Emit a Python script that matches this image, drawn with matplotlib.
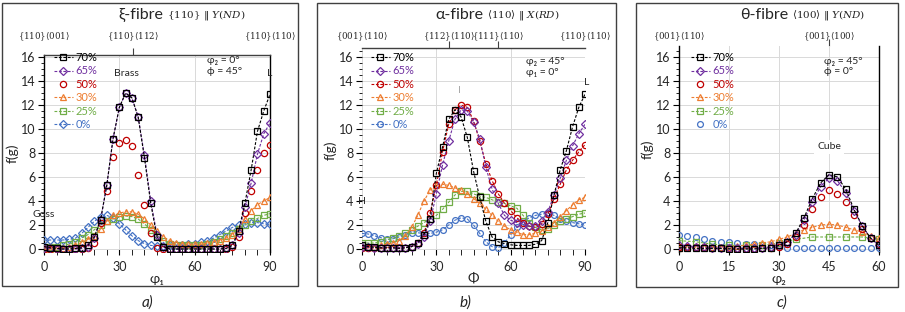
import matplotlib
matplotlib.use("Agg")
from matplotlib import pyplot as plt
from matplotlib.patches import Rectangle
from matplotlib.ticker import MultipleLocator
from matplotlib.transforms import blended_transform_factory

plt.rcParams['font.family'] = ['Lato', 'DejaVu Sans']
plt.rcParams['mathtext.fontset'] = 'dejavuserif'

W, H = 905, 312

# x grids (degrees)
PHI_90 = [0, 2.5, 5, 7.5, 10, 12.5, 15, 17.5, 20, 22.5, 25, 27.5, 30, 32.5, 35, 37.5,
          40, 42.5, 45, 47.5, 50, 52.5, 55, 57.5, 60, 62.5, 65, 67.5, 70, 72.5, 75,
          77.5, 80, 82.5, 85, 87.5, 90]
PHI_60 = [0, 2.5, 5, 7.5, 10, 12.5, 15, 17.5, 20, 22.5, 25, 27.5, 30, 32.5, 35, 37.5,
          40, 42.5, 45, 47.5, 50, 52.5, 55, 57.5, 60]
PHI_60_5 = [0, 5, 10, 15, 20, 25, 30, 35, 40, 45, 50, 55, 60]

LABELS = ["70%", "65%", "50%", "30%", "25%", "0%"]
COLORS = ["#000000", "#7030A0", "#C00000", "#ED7D31", "#70AD47", "#4472C4"]

# a) xi-fibre
xi_70 = [0.2, 0.1, 0.05, 0.0, 0.0, 0.05, 0.1, 0.3, 1.0, 2.4, 5.3, 9.2, 11.8, 13.0, 12.6, 11.0,
         7.6, 3.8, 1.0, 0.2, 0.0, 0.0, 0.0, 0.0, 0.0, 0.0, 0.0, 0.0, 0.0, 0.05, 0.3,
         1.5, 3.8, 6.6, 9.8, 11.5, 12.9]
xi_65 = [0.1, 0.05, 0.0, 0.0, 0.0, 0.0, 0.05, 0.2, 0.9, 2.4, 5.3, 9.2, 11.8, 13.0, 12.6, 11.0,
         7.8, 4.0, 1.2, 0.2, 0.0, 0.0, 0.0, 0.0, 0.0, 0.0, 0.0, 0.0, 0.0, 0.05, 0.3,
         1.3, 3.5, 5.5, 7.9, 9.6, 10.5]
xi_50 = [0.0, 0.0, 0.0, 0.0, 0.0, 0.0, 0.0, 0.1, 0.5, 2.2, 4.8, 7.7, 8.8, 9.1, 8.6, 6.2,
         3.7, 1.3, 0.1, 0.0, 0.0, 0.0, 0.0, 0.0, 0.0, 0.0, 0.0, 0.0, 0.0, 0.0, 0.2,
         1.0, 3.0, 4.8, 6.6, 8.0, 8.7]
xi_30 = [0.0, 0.0, 0.05, 0.1, 0.2, 0.35, 0.55, 0.8, 1.1, 1.7, 2.3, 2.8, 3.0, 3.1, 3.1, 2.9,
         2.5, 2.0, 1.5, 1.0, 0.7, 0.5, 0.45, 0.4, 0.4, 0.4, 0.5, 0.6, 0.7, 0.9, 1.2,
         1.7, 2.5, 3.2, 3.7, 4.0, 4.3]
xi_25 = [0.1, 0.15, 0.2, 0.3, 0.4, 0.6, 0.9, 1.2, 1.6, 2.0, 2.3, 2.5, 2.65, 2.75, 2.7, 2.5,
         2.1, 1.6, 1.1, 0.7, 0.45, 0.35, 0.3, 0.3, 0.3, 0.35, 0.45, 0.6, 0.8, 1.05, 1.35,
         1.7, 2.0, 2.3, 2.55, 2.8, 2.95]
xi_0 = [0.75, 0.75, 0.75, 0.75, 0.8, 0.9, 1.3, 1.8, 2.3, 2.7, 2.8, 2.6, 2.1, 1.6, 1.1, 0.7,
        0.45, 0.3, 0.25, 0.25, 0.3, 0.35, 0.35, 0.4, 0.45, 0.55, 0.7, 0.9, 1.2, 1.5, 1.8,
        2.0, 2.1, 2.2, 2.2, 2.1, 2.05]

# b) alpha-fibre
al_70 = [0.3, 0.2, 0.15, 0.1, 0.1, 0.1, 0.05, 0.1, 0.2, 0.5, 1.2, 2.5, 6.3, 8.5, 10.8, 11.6,
         11.0, 9.3, 6.5, 4.3, 2.3, 1.0, 0.6, 0.45, 0.35, 0.3, 0.3, 0.3, 0.4, 0.7, 2.2,
         4.5, 6.6, 8.2, 10.2, 11.8, 12.9]
al_65 = [0.2, 0.15, 0.1, 0.1, 0.1, 0.1, 0.1, 0.1, 0.2, 0.4, 1.0, 2.3, 4.6, 7.0, 9.0, 10.8,
         11.6, 11.5, 10.6, 9.2, 6.8, 5.0, 3.8, 2.8, 2.4, 2.2, 2.0, 1.9, 1.9, 2.3, 3.1,
         4.5, 5.9, 7.4, 8.6, 9.6, 10.4]
al_50 = [0.1, 0.1, 0.1, 0.1, 0.1, 0.1, 0.1, 0.1, 0.2, 0.5, 1.3, 3.0, 5.3, 8.1, 10.4, 11.6,
         12.0, 11.8, 10.7, 9.0, 7.1, 5.7, 4.6, 3.8, 3.2, 2.6, 2.2, 1.9, 1.8, 2.1, 2.9,
         4.2, 5.4, 6.6, 7.4, 8.1, 8.7]
al_30 = [0.2, 0.2, 0.2, 0.3, 0.4, 0.5, 0.7, 1.1, 1.8, 2.8, 4.0, 4.9, 5.3, 5.4, 5.3, 5.1,
         4.9, 4.6, 4.2, 3.8, 3.3, 2.8, 2.3, 1.9, 1.6, 1.4, 1.2, 1.2, 1.3, 1.5, 1.8,
         2.2, 2.7, 3.2, 3.7, 4.1, 4.3]
al_25 = [0.5, 0.5, 0.5, 0.6, 0.75, 0.9, 1.1, 1.3, 1.6, 1.9, 2.2, 2.5, 2.8, 3.3, 3.9, 4.5,
         4.8, 4.8, 4.6, 4.4, 4.3, 4.1, 3.9, 3.8, 3.6, 3.4, 2.8, 2.2, 1.8, 1.6, 1.7,
         2.0, 2.3, 2.5, 2.7, 2.9, 3.0]
al_0 = [1.3, 1.25, 1.1, 0.95, 0.8, 0.85, 1.0, 1.2, 1.35, 1.35, 1.3, 1.3, 1.4, 1.6, 2.0, 2.4,
        2.6, 2.5, 2.0, 1.3, 0.6, 0.2, 0.1, 0.5, 1.2, 1.8, 2.3, 2.6, 2.8, 2.9, 3.0,
        2.8, 2.5, 2.3, 2.2, 2.1, 2.0]

# c) theta-fibre
th_70 = [0.1, 0.1, 0.05, 0.05, 0.05, 0.05, 0.0, 0.0, 0.0, 0.0, 0.05, 0.1, 0.3, 0.6, 1.3, 2.6,
         4.2, 5.5, 6.2, 6.0, 5.0, 3.3, 1.9, 0.9, 0.3]
th_65 = [0.3, 0.25, 0.2, 0.15, 0.1, 0.1, 0.05, 0.05, 0.05, 0.05, 0.1, 0.15, 0.3, 0.6, 1.2, 2.4,
         3.9, 5.2, 5.9, 5.7, 4.7, 3.2, 1.9, 0.9, 0.3]
th_50 = [0.2, 0.2, 0.2, 0.15, 0.1, 0.05, 0.05, 0.0, 0.0, 0.0, 0.05, 0.1, 0.2, 0.4, 1.0, 2.0,
         3.3, 4.3, 4.9, 4.6, 3.9, 2.8, 1.7, 0.9, 0.4]
th_30 = [0.1, 0.15, 0.2, 0.2, 0.2, 0.2, 0.2, 0.25, 0.3, 0.4, 0.5, 0.6, 0.8, 1.0, 1.3, 1.6,
         1.8, 2.0, 2.05, 2.0, 1.8, 1.6, 1.4, 1.1, 0.9]
th_25 = [0.7, 0.6, 0.4, 0.3, 0.3, 0.3, 0.5, 0.8, 1.0, 1.0, 1.0, 1.0, 0.8]
th_0 = [1.2, 1.1, 1.0, 0.85, 0.7, 0.6, 0.55, 0.5, 0.45, 0.4, 0.35, 0.3, 0.15, 0.1, 0.05, 0.05,
        0.05, 0.05, 0.05, 0.05, 0.05, 0.05, 0.05, 0.05, 0.05]

DASH = (0, (2.5, 1.5))
TXT = "#262626"

fig = plt.figure(figsize=(W / 100, H / 100), dpi=100)


def px_axes(left, right, top, bottom):
    return fig.add_axes([left / W, 1 - bottom / H, (right - left) / W, (bottom - top) / H])


def draw_series(ax, xs, ys, markers, lines, sizes):
    handles = []
    for x, y, c, m, ln, ms, lab in zip(xs, ys, COLORS, markers, lines, sizes, LABELS):
        h, = ax.plot(x, y, color=c, marker=m, markersize=ms, markerfacecolor='none',
                     markeredgewidth=0.9, linestyle=DASH if ln else 'none', linewidth=0.8,
                     label=lab)
        handles.append(h)
    for h, z in zip(handles, [8, 7, 6, 5, 4, 3]):
        h.set_zorder(z)
    return handles


def style_axes(ax, xmax, xmajor, ytop, spines):
    ax.set_xlim(0, xmax)
    ax.set_ylim(-0.25, ytop)
    ax.xaxis.set_major_locator(MultipleLocator(xmajor))
    ax.yaxis.set_minor_locator(MultipleLocator(0.5))
    ax.set_yticks(range(0, 17, 2))
    ax.grid(True, which='major', color='#d9d9d9', linewidth=0.7, zorder=0)
    ax.set_axisbelow(True)
    for side in ['left', 'right', 'top', 'bottom']:
        ax.spines[side].set_visible(side in spines)
        ax.spines[side].set_color('#000000' if side != 'top' else '#404040')
        ax.spines[side].set_linewidth(1.0)
    ax.tick_params(axis='y', which='major', length=4, labelsize=9, labelcolor=TXT, pad=2)
    ax.tick_params(axis='y', which='minor', length=2)
    ax.tick_params(axis='x', which='major', direction='inout', length=5, labelsize=9,
                   labelcolor=TXT, pad=4)
    ax.tick_params(axis='x', which='minor', direction='inout', length=4)
    ax.set_ylabel("f(g)", fontsize=10, color=TXT, labelpad=2)


def top_labels(ax, pos, labels, ypx, ticks):
    tr = blended_transform_factory(ax.transData, fig.transFigure)
    for p, lab in zip(pos, labels):
        ax.text(p, 1 - ypx / H, lab, transform=tr, ha='center', va='center',
                fontsize=6.2, color=TXT)
    sec = ax.secondary_xaxis('top')
    sec.set_xticks(ticks)
    sec.set_xticklabels([])
    sec.tick_params(length=5, direction='out', color='#404040')
    sec.spines['top'].set_visible(False)


def legend(ax, handles, xpx, ypx):
    ax.legend(handles=handles, labels=LABELS, loc='upper left', frameon=False,
              bbox_to_anchor=(xpx / W, 1 - ypx / H), bbox_transform=fig.transFigure,
              fontsize=8, handlelength=1.7, handletextpad=0.25, labelspacing=0.22,
              borderpad=0, borderaxespad=0, labelcolor=COLORS)


def title(xpx, main, sub):
    fig.text(xpx / W, 1 - 15 / H, main, ha='right', va='center', fontsize=11.5, color=TXT)
    fig.text((xpx + 4) / W, 1 - 15 / H, sub, ha='left', va='center', fontsize=7.5, color=TXT)


# panel frames
for l, r, t, b in [(2, 298, 3, 286), (317, 616, 3, 286), (636, 898, 3, 287)]:
    fig.patches.append(Rectangle((l / W, 1 - b / H), (r - l) / W, (b - t) / H,
                                 transform=fig.transFigure, fill=False,
                                 edgecolor='#404040', linewidth=1.0))

# ---- a) xi-fibre
ax = px_axes(44, 270, 55, 252)
h = draw_series(ax, [PHI_90] * 6, [xi_70, xi_65, xi_50, xi_30, xi_25, xi_0],
                ['s', 'D', 'o', '^', 's', 'D'], [1, 1, 0, 1, 1, 1],
                [5, 3.6, 4.5, 4, 5, 3.6])
style_axes(ax, 90, 30, 16.17, ['left', 'right', 'top'])
ax.xaxis.set_minor_locator(MultipleLocator(5))
ax.set_xlabel("φ₁", fontsize=10, color=TXT, labelpad=0)
top_labels(ax, [0, 35.26, 90], [r"$\{110\}\langle001\rangle$", r"$\{110\}\langle112\rangle$",
                                r"$\{110\}\langle110\rangle$"], 37, [35.26])
legend(ax, h, 54, 52)
ax.text(33, 14.6, "Brass", ha='center', va='center', fontsize=7.5, color=TXT)
ax.text(0, 2.9, "Goss", ha='center', va='center', fontsize=7.5, color=TXT, clip_on=False)
ax.text(90, 14.6, "L", ha='center', va='center', fontsize=7.5, color=TXT, clip_on=False)
ax.text(65, 15.7, "φ₂ = 0°", ha='left', va='center', fontsize=7.5, color=TXT)
ax.text(65, 14.8, "ϕ = 45°", ha='left', va='center', fontsize=7.5, color=TXT)
title(163, "ξ-fibre", r"$\{110\}\ \Vert\ Y(ND)$")

# ---- b) alpha-fibre
ax = px_axes(362, 585, 48, 252)
h = draw_series(ax, [PHI_90] * 6, [al_70, al_65, al_50, al_30, al_25, al_0],
                ['s', 'D', 'o', '^', 's', 'o'], [1, 1, 1, 1, 1, 1],
                [5, 3.6, 4.5, 4, 5, 4.2])
style_axes(ax, 90, 30, 16.75, ['top'])
ax.xaxis.set_minor_locator(MultipleLocator(5))
ax.set_xlabel("Φ", fontsize=10, color=TXT, labelpad=0)
top_labels(ax, [0, 35.26, 54.74, 90],
           [r"$\{001\}\langle110\rangle$", r"$\{112\}\langle110\rangle$",
            r"$\{111\}\langle110\rangle$", r"$\{110\}\langle110\rangle$"], 37, [35.26, 54.74])
legend(ax, h, 371, 52)
ax.text(0, 4.0, "H", ha='center', va='center', fontsize=7.5, color=TXT, clip_on=False)
ax.text(39.5, 13.2, "I", ha='center', va='center', fontsize=7.5, color='#a6a6a6')
ax.text(90.5, 13.9, "L", ha='center', va='center', fontsize=7.5, color=TXT, clip_on=False)
ax.text(66, 15.6, "φ₂ = 45°", ha='left', va='center', fontsize=7.5, color=TXT)
ax.text(66, 14.7, "φ₁ = 0°", ha='left', va='center', fontsize=7.5, color=TXT)
title(483, "α-fibre", r"$\langle110\rangle\ \Vert\ X(RD)$")

# ---- c) theta-fibre
ax = px_axes(679, 879, 46, 252)
h = draw_series(ax, [PHI_60, PHI_60, PHI_60, PHI_60, PHI_60_5, PHI_60],
                [th_70, th_65, th_50, th_30, th_25, th_0],
                ['s', 'D', 'o', '^', 's', 'o'], [1, 1, 0, 1, 1, 0],
                [5, 3.6, 4.5, 4, 5, 4.2])
style_axes(ax, 60, 15, 16.9, ['left', 'right'])
ax.set_xlabel("φ₂", fontsize=10, color=TXT, labelpad=0)
top_labels(ax, [0, 45], [r"$\{001\}\langle110\rangle$", r"$\{001\}\langle100\rangle$"], 37, [45])
legend(ax, h, 691, 52)
ax.text(45, 8.5, "Cube", ha='center', va='center', fontsize=7.5, color=TXT,
        bbox=dict(facecolor='white', edgecolor='none', pad=2))
ax.text(0, 3.3, "I", ha='center', va='center', fontsize=7.5, color=TXT, clip_on=False)
ax.text(43.5, 15.6, "φ₂ = 45°", ha='left', va='center', fontsize=7.5, color=TXT)
ax.text(43.5, 14.8, "ϕ = 0°", ha='left', va='center', fontsize=7.5, color=TXT)
title(788, "θ-fibre", r"$\langle100\rangle\ \Vert\ Y(ND)$")

# captions
for xpx, cap in [(147, "a)"), (465, "b)"), (782, "c)")]:
    fig.text(xpx / W, 1 - 303 / H, cap, ha='center', va='center', fontsize=11,
             style='italic', color=TXT)

fig.savefig("out.png", dpi=100)
